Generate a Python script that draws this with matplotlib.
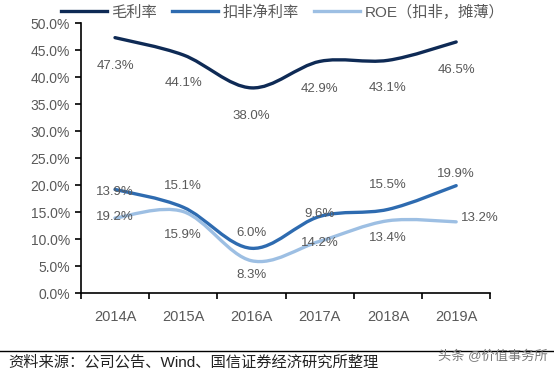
import numpy as np
import matplotlib
matplotlib.use('Agg')
import matplotlib.pyplot as plt
from matplotlib.path import Path
from matplotlib.patches import PathPatch
from matplotlib.lines import Line2D

plt.rcParams['font.family'] = ['Liberation Sans', 'Noto Sans CJK SC', 'DejaVu Sans']

# data
years = ['2014A', '2015A', '2016A', '2017A', '2018A', '2019A']
gross_margin = [47.3, 44.1, 38.0, 42.9, 43.1, 46.5]
net_margin = [19.2, 15.9, 8.3, 14.2, 15.5, 19.9]
roe = [13.9, 15.1, 6.0, 9.6, 13.4, 13.2]
series_names = ['毛利率', '扣非净利率', 'ROE（扣非，摊薄）']
colors = ['#0e2a55', '#2e6bb0', '#9dbfe3']

# label offsets in pixels (dx, dy) relative to each point
gross_off = [(0, -28)] * 6
net_off = [(0, -28), (0, -28), (0, -27), (0, -27), (0, 24), (0, 12)]
roe_off = [(0, 26), (0, 26), (0, 28), (0, 27), (0, -17), (24, 4)]


def smooth_path(xs, ys):
    # Excel-like smoothed line: cubic bezier segments through the points
    pts = np.column_stack([xs, ys]).astype(float)
    n = len(pts)
    verts = [pts[0]]
    codes = [Path.MOVETO]
    for i in range(n - 1):
        p0 = pts[i - 1] if i > 0 else pts[i]
        p1 = pts[i]
        p2 = pts[i + 1]
        p3 = pts[i + 2] if i + 2 < n else pts[i + 1]
        c1 = p1 + (p2 - p0) / 6
        c2 = p2 - (p3 - p1) / 6
        verts += [c1, c2, p2]
        codes += [Path.CURVE4] * 3
    return Path(verts, codes)


fig = plt.figure(figsize=(5.54, 3.72), dpi=100)
ax = fig.add_axes([0.146, 0.212, 0.739, 0.726])

x = np.arange(len(years))
for vals, c in [(gross_margin, colors[0]), (net_margin, colors[1]), (roe, colors[2])]:
    ax.add_patch(PathPatch(smooth_path(x, vals), facecolor='none', edgecolor=c,
                           lw=2.4, capstyle='round'))
for vals, offs in [(gross_margin, gross_off), (net_margin, net_off), (roe, roe_off)]:
    for xi, v, (dx, dy) in zip(x, vals, offs):
        ax.annotate(f'{v:.1f}%', (xi, v), xytext=(dx * 0.72, dy * 0.72),
                    textcoords='offset points', ha='center', va='center',
                    fontsize=9.5, color='#595959')

ax.set_xlim(-0.5, len(years) - 0.5)
ax.set_ylim(0, 50)
ax.set_yticks(np.arange(0, 51, 5))
ax.set_yticklabels([f'{t:.1f}%' for t in np.arange(0, 51, 5)], fontsize=10, color='#595959')
ax.set_xticks(np.arange(-0.5, len(years), 1))
ax.set_xticklabels([])
ax.set_xticks(x, minor=True)
ax.set_xticklabels(years, minor=True, fontsize=10.5, color='#595959')
ax.tick_params(axis='x', which='minor', length=0, pad=12)
ax.tick_params(axis='x', which='major', length=4, width=1.2, direction='out')
ax.tick_params(axis='y', length=4, width=1.2, direction='out', pad=4)
for s in ['top', 'right']:
    ax.spines[s].set_visible(False)
for s in ['left', 'bottom']:
    ax.spines[s].set_linewidth(1.2)
    ax.spines[s].set_color('black')

handles = [Line2D([], [], color=c, lw=2.4) for c in colors]
leg = fig.legend(handles, series_names, loc='center', bbox_to_anchor=(0.51, 0.967),
                 ncol=3, frameon=False, fontsize=11, handlelength=3.0,
                 columnspacing=1.0, handletextpad=0.3)
for t in leg.get_texts():
    t.set_color('#595959')

# footer
fig.add_artist(Line2D([0, 1], [1 - 351 / 372, 1 - 351 / 372], color='black', lw=1))
fig.text(8 / 554, 1 - 362 / 372, '资料来源：公司公告、Wind、国信证券经济研究所整理',
         fontsize=11, va='center', ha='left', color='#222222')
fig.text(548 / 554, 1 - 357 / 372, '头条 @价值事务所', fontsize=9.5, va='center',
         ha='right', color='#777777')

fig.savefig('out.png', dpi=100)
